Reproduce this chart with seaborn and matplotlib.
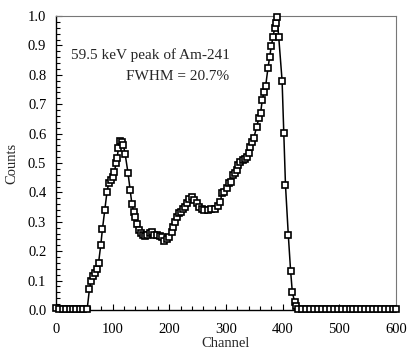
import numpy as np
import pandas as pd
import matplotlib
matplotlib.use("Agg")
import matplotlib.pyplot as plt
import seaborn as sns
from matplotlib.ticker import MultipleLocator

# Am-241 spectrum
channel = [
    0, 6, 12, 18, 24, 30, 36, 42, 48, 55,
    59, 62, 65, 68, 72, 75, 79, 82, 86, 90, 93, 97, 100, 103, 106, 108, 110, 113,
    116, 119, 122, 127, 131, 134, 137, 140, 143, 146, 150, 153, 157, 161, 166, 170,
    173, 178, 183, 187, 191, 196, 200, 205, 207, 210, 213, 217, 221, 224, 228, 231,
    235, 240, 244, 248, 252, 257, 262, 268, 274, 280, 286, 290, 293, 297, 301, 305,
    309, 312, 316, 320, 322, 325, 330, 334, 337, 340, 343, 346, 349, 354, 358, 361,
    364, 367, 370, 374, 377, 380, 383, 386, 388, 390, 393, 399, 402, 405, 410, 414,
    417, 421, 424,
    427, 434, 441, 448, 455, 462, 469, 476, 483, 490, 497, 504, 511, 518, 525, 532,
    539, 546, 553, 560, 567, 574, 581, 588, 595, 600,
]
counts = [
    0.006, 0.002, 0.002, 0.002, 0.002, 0.002, 0.002, 0.002, 0.002, 0.003,
    0.071, 0.099, 0.115, 0.127, 0.138, 0.159, 0.221, 0.276, 0.340, 0.402, 0.431, 0.442,
    0.453, 0.470, 0.499, 0.516, 0.550, 0.575,
    0.570, 0.560, 0.531, 0.467, 0.407, 0.360, 0.334, 0.318, 0.293, 0.272, 0.262, 0.255,
    0.252, 0.255, 0.263, 0.266,
    0.255, 0.255, 0.252, 0.247, 0.236, 0.240, 0.247, 0.266, 0.281, 0.300, 0.317, 0.329,
    0.334, 0.342, 0.351, 0.363,
    0.376, 0.385, 0.374, 0.363, 0.350, 0.344, 0.340, 0.340, 0.342, 0.344, 0.354, 0.368,
    0.399, 0.402, 0.414, 0.431,
    0.436, 0.459, 0.465, 0.476, 0.493, 0.504, 0.510, 0.512, 0.521, 0.535, 0.555, 0.573,
    0.584, 0.623, 0.652, 0.669,
    0.714, 0.740, 0.762, 0.822, 0.860, 0.898, 0.930, 0.960, 0.975, 0.995, 0.930, 0.780,
    0.603, 0.424, 0.254, 0.134,
    0.062, 0.028, 0.014,
    0.003, 0.002, 0.002, 0.002, 0.002, 0.002, 0.003, 0.002, 0.002, 0.002, 0.002, 0.002,
    0.002, 0.002, 0.003, 0.002,
    0.002, 0.002, 0.002, 0.003, 0.002, 0.002, 0.002, 0.002, 0.002, 0.003,
]

df = pd.DataFrame({"Channel": channel, "Counts": counts})

sns.set_style("ticks")
plt.rcParams["font.family"] = ["Liberation Serif", "DejaVu Serif"]

fig = plt.figure(figsize=(4.13, 3.62), dpi=100)
ax = fig.add_axes([0.1356, 0.1436, 0.8232, 0.8122])

sns.lineplot(data=df, x="Channel", y="Counts", ax=ax, sort=False, estimator=None,
             color="black", linewidth=1.1, marker="s", markersize=4.7,
             markerfacecolor="white", markeredgecolor="black", markeredgewidth=1.2,
             zorder=3, clip_on=False)

ax.set_xlim(0, 600)
ax.set_ylim(0, 1.0)
ax.xaxis.set_major_locator(MultipleLocator(100))
ax.xaxis.set_minor_locator(MultipleLocator(20))
ax.yaxis.set_major_locator(MultipleLocator(0.1))
ax.yaxis.set_minor_locator(MultipleLocator(0.02))
ax.yaxis.set_major_formatter(matplotlib.ticker.FormatStrFormatter("%.1f"))
ax.tick_params(which="both", direction="in", colors="black", labelsize=10.5, width=0.8)
ax.tick_params(which="major", length=4)
ax.tick_params(which="minor", length=3)
ax.tick_params(axis="x", which="major", pad=9)
ax.tick_params(axis="y", which="major", pad=7)

for side in ["left", "bottom"]:
    ax.spines[side].set_color("black")
    ax.spines[side].set_linewidth(1.0)
for side in ["top", "right"]:
    ax.spines[side].set_visible(True)
    ax.spines[side].set_color("#777777")
    ax.spines[side].set_linewidth(0.8)

ax.set_xlabel("Channel", fontsize=10.5, labelpad=1)
ax.set_ylabel("Counts", fontsize=10.5, labelpad=7)

ax.text(306, 0.867, "59.5 keV peak of Am-241", ha="right", va="center", fontsize=11)
ax.text(306, 0.793, "FWHM = 20.7%", ha="right", va="center", fontsize=11)

fig.savefig("out.png", dpi=100)
